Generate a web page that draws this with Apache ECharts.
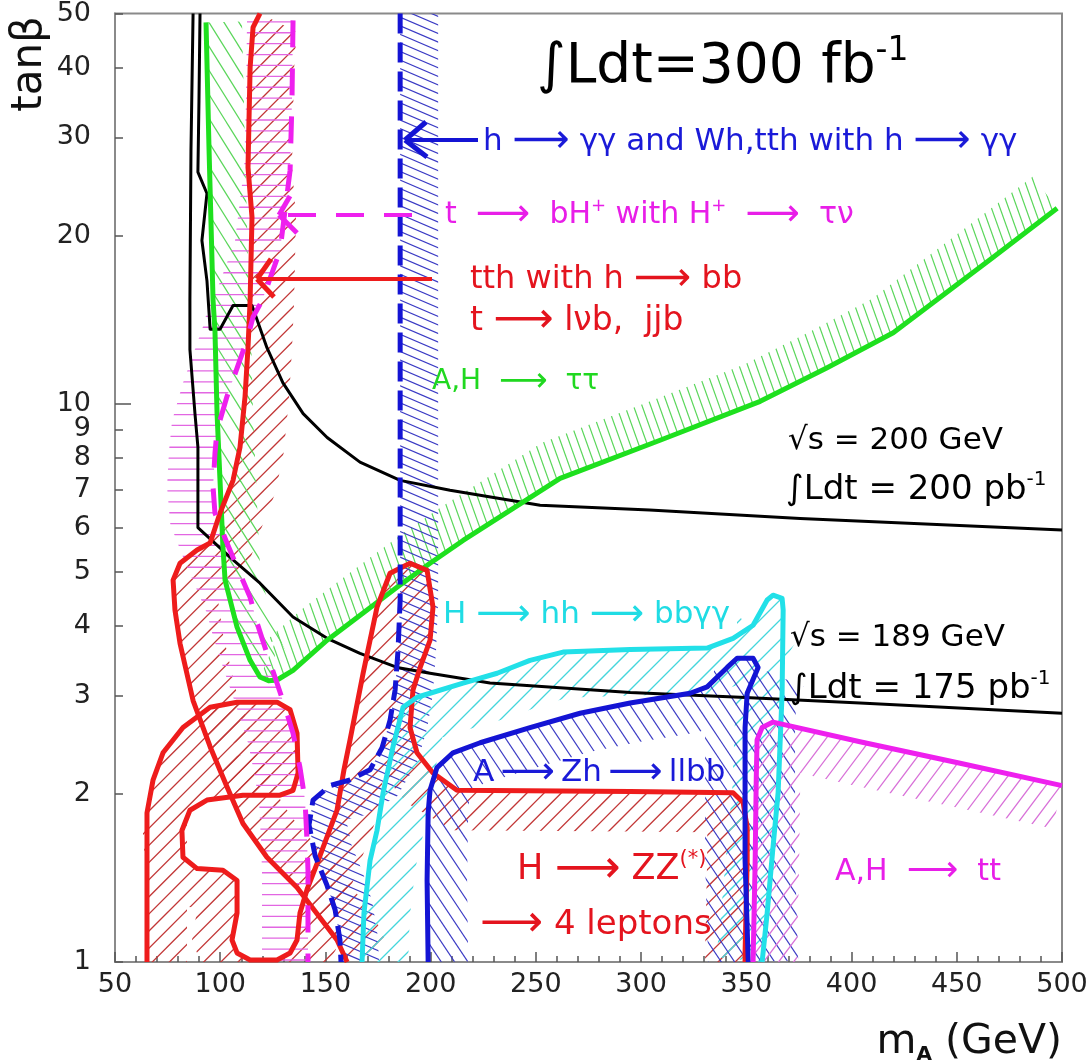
<!DOCTYPE html>
<html><head><meta charset="utf-8">
<script src="https://cdn.jsdelivr.net/npm/echarts@6/dist/echarts.min.js"></script>
<style>html,body{margin:0;padding:0;background:#fff}#c{width:1091px;height:1063px}</style>
</head><body><div id="c"></div>
<script>
// ---------------- data (m_A [GeV], tan beta) ----------------
const mTicks = [50,100,150,200,250,300,350,400,450,500];
const tanbTicks = [1,2,3,4,5,6,7,8,9,10,20,30,40,50];

const lep200 = [[90.4,50],[89.9,34.9],[89.4,26],[93.7,23.8],[91.3,19.6],[93.7,16.6],[95.2,13.6],[99.9,13.6],[106.1,15.0],[115.1,15.0],[116.5,14.5],[122.2,12.6],[129.8,10.9],[139.4,9.6],[150.8,8.7],[166.4,7.86],[185.5,7.29],[209.2,7.0],[252,6.58],[304,6.45],[375.6,6.23],[500,5.94]];
const lep189 = [[87.1,50],[86.1,28.4],[85.6,15.3],[85.6,12.5],[88.0,9.6],[89.4,8.36],[89.4,7.29],[89.4,6.0],[106.1,5.25],[118.9,4.77],[134.6,4.15],[150.8,3.8],[166.4,3.57],[184,3.37],[199.7,3.29],[228.2,3.16],[294.8,3.04],[347,2.98],[404,2.91],[500,2.79]];
const tautau = [[93.25,48.2],[94.7,28.4],[96.6,15.3],[97.5,13.5],[98.5,9.6],[99.9,7.29],[101.3,5.53],[102.3,4.83],[108,3.98],[114.2,3.47],[118.9,3.24],[123,3.19],[127,3.20],[134.6,3.33],[150.8,3.77],[167.9,4.22],[184,4.69],[199.7,5.18],[215.4,5.69],[261.5,7.35],[309,8.6],[356.6,10.1],[388.4,11.6],[419.8,13.4],[436,14.9],[467.3,18.3],[497.7,22.4]];
const tthbb = [[118.9,50],[115.6,47.2],[114.2,40],[113.2,26.5],[115.1,21.6],[114.2,15.3],[113.2,12.6],[111.8,10.3],[109.4,8.36],[106.1,7.29],[99.9,6.37],[95.2,5.63],[89,5.47],[80.9,5.18],[77.6,4.83],[78.5,4.27],[80.9,3.72],[87.1,2.94],[95.2,2.43],[103.2,2.06],[110.8,1.77],[122.2,1.54],[136.5,1.36],[146,1.22],[155.5,1.095],[160.3,1.0]];
const tbH = [[134.6,48.6],[134.1,34.9],[133.2,26.2],[128.4,18.8],[119.9,15.3],[115.6,14.3],[112.7,13.0],[107,11.3],[103.2,10.3],[98.5,8.96],[97.5,8.15],[96.6,7.09],[97.5,6.37],[103.2,5.63],[108,5.1],[114.2,4.5],[117.5,4.05],[122.2,3.57],[126,3.24],[130.8,2.86],[134.6,2.57],[137.9,2.23],[140.3,1.95],[141.3,1.63],[141.7,1.46],[141.7,1.0]];
const hgg = [[185.5,50],[185.5,20],[185.5,8],[185.5,4.45],[184.5,3.62],[183.1,3.07],[180.7,2.71],[176.9,2.42],[171.2,2.21],[161.7,2.12],[152.2,2.07],[144.1,1.95],[142.2,1.76],[145.1,1.55],[150.8,1.37],[154.6,1.24],[156.9,1.095],[157.4,1.0]];
const hZZ = [[65.2,1],[65.2,1.85],[68.1,2.12],[72.8,2.37],[82.3,2.63],[95.2,2.86],[108,2.92],[127,2.92],[133.2,2.83],[136.5,2.57],[137,2.18],[134.6,2.03],[128.4,1.99],[110.8,1.99],[93.7,1.95],[85.6,1.87],[81.8,1.72],[82.3,1.54],[89,1.47],[101.3,1.46],[108,1.40],[108,1.224],[105.6,1.095],[108,1.038],[114.2,1.008],[127,1.008],[133.2,1.038],[136.5,1.095],[137.9,1.224],[141.3,1.35],[146,1.50],[155.5,1.87],[158.8,2.21],[161.7,2.50],[167.9,3.29],[174.5,4.32],[180.7,4.97],[190.2,5.18],[198.3,5.03],[201.1,4.32],[199.7,3.77],[195,3.37],[191.6,3.07],[190.2,2.63],[193.5,2.37],[201.1,2.18],[212.5,2.03],[294.8,2.02],[343.7,2.01],[348.5,1.93],[350.4,1.74],[350.4,1.52],[349.4,1.038],[349.4,1]];
const hhbbgg = [[167.4,1],[168.3,1.224],[171.2,1.52],[174.5,1.72],[177.4,2.01],[182.1,2.43],[186.9,2.86],[193.5,2.98],[215.4,3.16],[231.6,3.29],[247.2,3.47],[262.9,3.59],[294.8,3.63],[331.4,3.65],[343.7,3.8],[353.2,4.01],[359.9,4.45],[362.7,4.54],[367,4.48],[367.5,4.27],[367,3.03],[365.1,2.01],[362.7,1.61],[359.9,1.224],[357.5,1]];
const Zhllbb = [[198.8,1],[198.3,1.40],[198.8,1.85],[199.7,2.03],[203,2.23],[210.6,2.37],[223.5,2.47],[247.2,2.63],[271,2.79],[294.8,2.91],[323.3,3.03],[331.4,3.11],[340.9,3.37],[345.6,3.50],[353.2,3.50],[355.6,3.37],[350.4,3.03],[349.4,2.63],[349.4,1.52],[350.9,1]];
const ttbar = [[353.2,1],[354.2,1.52],[354.7,2.12],[355.1,2.50],[357.5,2.63],[362.7,2.69],[404,2.48],[451.6,2.27],[500,2.07]];

// ---------------- styles ----------------
const FONT = 'DejaVu Sans';
const RED='#ee1c1c', GREEN='#1ee01e', BLUE='#1414d4', CYAN='#22e0e8', MAG='#ee20ee';

function makeHatch(color, angleDeg, spacing, lw) {
  const L = 120;
  const th = angleDeg*Math.PI/180;
  const nx = Math.sin(th), ny = Math.cos(th);
  let a = Math.round(L*nx/spacing), b = Math.round(L*ny/spacing);
  if (a===0 && b===0) b = 1;
  const cv = document.createElement('canvas');
  cv.width = L; cv.height = L;
  const ctx = cv.getContext('2d');
  ctx.strokeStyle = color; ctx.lineWidth = lw; ctx.lineCap='butt';
  const vals = [0, a*L, b*L, a*L+b*L];
  const kmin = Math.floor(Math.min(...vals)/L)-2, kmax = Math.ceil(Math.max(...vals)/L)+2;
  for (let k=kmin;k<=kmax;k++){
    ctx.beginPath();
    if (Math.abs(b) >= Math.abs(a)) {
      const x0=-20, x1=L+20;
      ctx.moveTo(x0,(k*L-a*x0)/b); ctx.lineTo(x1,(k*L-a*x1)/b);
    } else {
      const y0=-20, y1=L+20;
      ctx.moveTo((k*L-b*y0)/a,y0); ctx.lineTo((k*L-b*y1)/a,y1);
    }
    ctx.stroke();
  }
  return {image: cv, repeat: 'repeat'};
}

const pRed   = makeHatch('#c23636', 45, 12, 1.3);
const pGreenA= makeHatch('#5ad65a', -55, 13, 1.2);
const pGreenB= makeHatch('#5ad65a', -72, 8, 1.2);
const pBlueG = makeHatch('#3a3ac4', -25, 8, 1.2);
const pBlueZ = makeHatch('#3a3ac4', -55, 11, 1.2);
const pCyan  = makeHatch('#44d6dc', 45, 14, 1.3);
const pMagH  = makeHatch('#e266e2', 0, 11, 1.3);
const pMagT  = makeHatch('#d870d8', 50, 12, 1.3);

function bandSeries(pts, width, side, pattern) {
  return {
    type:'custom', coordinateSystem:'cartesian2d', clip:true, silent:true, z:1, animation:false,
    data: pts,
    renderItem: function(params, api){
      if (params.dataIndex !== 0) return null;
      const P = pts.map(p=>api.coord(p));
      const n = P.length, off = [];
      for (let i=0;i<n;i++){
        const a = P[Math.max(0,i-1)], b = P[Math.min(n-1,i+1)];
        let dx=b[0]-a[0], dy=b[1]-a[1]; const l=Math.hypot(dx,dy)||1; dx/=l; dy/=l;
        off.push([P[i][0]+side*(-dy)*width, P[i][1]+side*dx*width]);
      }
      return {type:'polygon', shape:{points:P.concat(off.reverse())}, style:{fill:pattern, stroke:null}};
    }
  };
}
function lineSeries(pts, color, width, dash) {
  return {type:'line', data:pts, showSymbol:false, symbol:'none', silent:true, z:3, animation:false,
    lineStyle:{color, width, type: dash||'solid', cap:'butt', join:'round'}};
}

const series = [
  bandSeries(tthbb, 44, -1, pRed),
  bandSeries(hZZ, 40, 1, pRed),
  bandSeries(tautau.slice(0,13), 36, -1, pGreenA),
  bandSeries(tautau.slice(10), 40, -1, pGreenB),
  bandSeries(tbH, 46, 1, pMagH),
  bandSeries(hgg, 38, -1, pBlueG),
  bandSeries(hhbbgg, 46, 1, pCyan),
  bandSeries(Zhllbb, 40, 1, pBlueZ),
  bandSeries(Zhllbb.slice(15), 50, -1, pBlueZ),
  bandSeries(ttbar, 44, 1, pMagT),
  lineSeries(lep189, '#000', 3),
  lineSeries(lep200, '#000', 3),
  lineSeries(tautau, GREEN, 5),
  lineSeries(tthbb, RED, 5),
  lineSeries(hZZ, RED, 5),
  lineSeries(hhbbgg, CYAN, 5),
  lineSeries(Zhllbb, BLUE, 5),
  lineSeries(ttbar, MAG, 5),
  lineSeries(hgg, BLUE, 5, [20,9]),
  lineSeries(tbH, MAG, 5, [27,21])
];

function txt(x, y, text, color, size, arrowSize) {
  const ar = arrowSize || Math.round(size*1.25);
  return {type:'text', x, y, z:100, silent:true, style:{
    text, fill:color, font: size+'px "'+FONT+'"', align:'left', verticalAlign:'middle',
    textAlign:'left', textVerticalAlign:'middle',
    rich:{ s:{fontSize: Math.round(size*0.6), fontFamily:FONT, fill:color, verticalAlign:'top', lineHeight:size*1.2},
           n:{fontSize:size, fontFamily:FONT, fill:color, lineHeight:size*1.2},
           a:{fontSize:ar, fontFamily:FONT, fill:color, lineHeight:size*1.2} }
  }};
}
function seg(pts, color, w, dash) {
  return {type:'polyline', z:90, silent:true, shape:{points:pts}, style:{stroke:color, lineWidth:w, lineDash:dash||null, fill:null, lineCap:'butt'}};
}

const graphics = [
  txt(537, 68, '{n|∫Ldt=300 fb}{s|-1}', '#000', 55),
  txt(483, 142, '{n|h }{a|⟶}{n| γγ and Wh,tth with h }{a|⟶}{n| γγ}', '#1a1ad8', 31, 40),
  txt(445, 215, '{n|t  }{a|⟶}{n|  bH}{s|+}{n| with H}{s|+}{n|  }{a|⟶}{n|  τν}', '#e81ee8', 30, 38),
  txt(470, 280, '{n|tth with h }{a|⟶}{n| bb}', '#e4141e', 32, 40),
  txt(470, 321, '{n|t }{a|⟶}{n| lνb,  jjb}', '#e4141e', 33, 42),
  txt(432, 382, '{n|A,H  }{a|⟶}{n|  ττ}', '#20d820', 28, 34),
  txt(788, 441, '{n|√s = 200 GeV}', '#000', 31),
  txt(786, 490, '{n|∫Ldt = 200 pb}{s|-1}', '#000', 34),
  txt(443, 615, '{n|H }{a|⟶}{n| hh }{a|⟶}{n| bbγγ}', '#20dce4', 31, 38),
  txt(790, 638, '{n|√s = 189 GeV}', '#000', 31),
  txt(790, 689, '{n|∫Ldt = 175 pb}{s|-1}', '#000', 34),
  txt(473, 773, '{n|A\u2009}{a|⟶}{n|\u2009Zh\u2009}{a|⟶}{n|\u2009llbb}', '#1a1ad8', 31, 38),
  txt(517, 870, '{n|H }{a|⟶}{n| ZZ}{s|(*)}', '#e4141e', 35, 46),
  txt(480, 925, '{a|⟶}{n| 4 leptons}', '#e4141e', 34, 44),
  txt(835, 872, '{n|A,H  }{a|⟶}{n|  tt}', '#e81ee8', 30, 36),
  // axis titles
  {type:'text', x:1062, y:1042, z:100, silent:true, style:{text:'{n|m}{a|A}{n| (GeV)}', fill:'#111', font:'41px "'+FONT+'"',
     align:'right', verticalAlign:'middle', textAlign:'right', textVerticalAlign:'middle',
     rich:{n:{fontSize:41, fontFamily:FONT, lineHeight:46}, a:{fontSize:20, fontWeight:'bold', fontFamily:FONT, verticalAlign:'bottom', lineHeight:46}}}},
  {type:'text', x:30, y:64, rotation:Math.PI/2, z:100, silent:true, style:{text:'tanβ', fill:'#111', font:'42px "'+FONT+'"',
     align:'center', verticalAlign:'middle', textAlign:'center', textVerticalAlign:'middle'}},
  // arrows
  seg([[478,140],[405,140]], BLUE, 4), seg([[405,140],[426,122]], BLUE, 5), seg([[405,140],[427,157]], BLUE, 5),
  seg([[412,215],[280,215]], MAG, 4, [28,20]), seg([[279,215],[290,196]], MAG, 5), seg([[279,215],[297,233]], MAG, 5),
  seg([[432,279],[257,279]], RED, 4), seg([[257,279],[271,259]], RED, 5), seg([[257,279],[274,297]], RED, 5)
];

const chart = echarts.init(document.getElementById('c'), null, {renderer:'canvas'});
chart.setOption({
  animation:false,
  backgroundColor:'#fff',
  grid:{left:115, right:29, top:13, bottom:101, show:true, borderColor:'#8a8a8a', borderWidth:2, backgroundColor:'transparent'},
  xAxis:{type:'value', min:50, max:500, interval:50,
    axisLine:{lineStyle:{color:'#8a8a8a', width:2}},
    axisTick:{inside:true, length:10, lineStyle:{color:'#555', width:1.5}},
    minorTick:{show:true, splitNumber:5, length:6, lineStyle:{color:'#555', width:1.5}},
    splitLine:{show:false}, minorSplitLine:{show:false},
    axisLabel:{fontSize:27, color:'#222', margin:9, fontFamily:FONT, customValues: mTicks}},
  yAxis:[
    {type:'log', logBase:10, min:1, max:50,
     axisLine:{lineStyle:{color:'#8a8a8a', width:2}},
     axisTick:{inside:true, length:8, lineStyle:{color:'#555', width:1.5}, customValues: tanbTicks},
     axisLabel:{fontSize:27, color:'#222', margin:24, fontFamily:FONT, customValues: tanbTicks},
     splitLine:{show:false}, minorTick:{show:false}},
    {type:'log', logBase:10, min:1, max:50, position:'left',
     axisLine:{show:false}, axisLabel:{show:false}, splitLine:{show:false},
     axisTick:{inside:true, length:16, lineStyle:{color:'#555', width:1.5}, customValues:[10]}}
  ],
  series: series,
  graphic: graphics
});
</script></body></html>
